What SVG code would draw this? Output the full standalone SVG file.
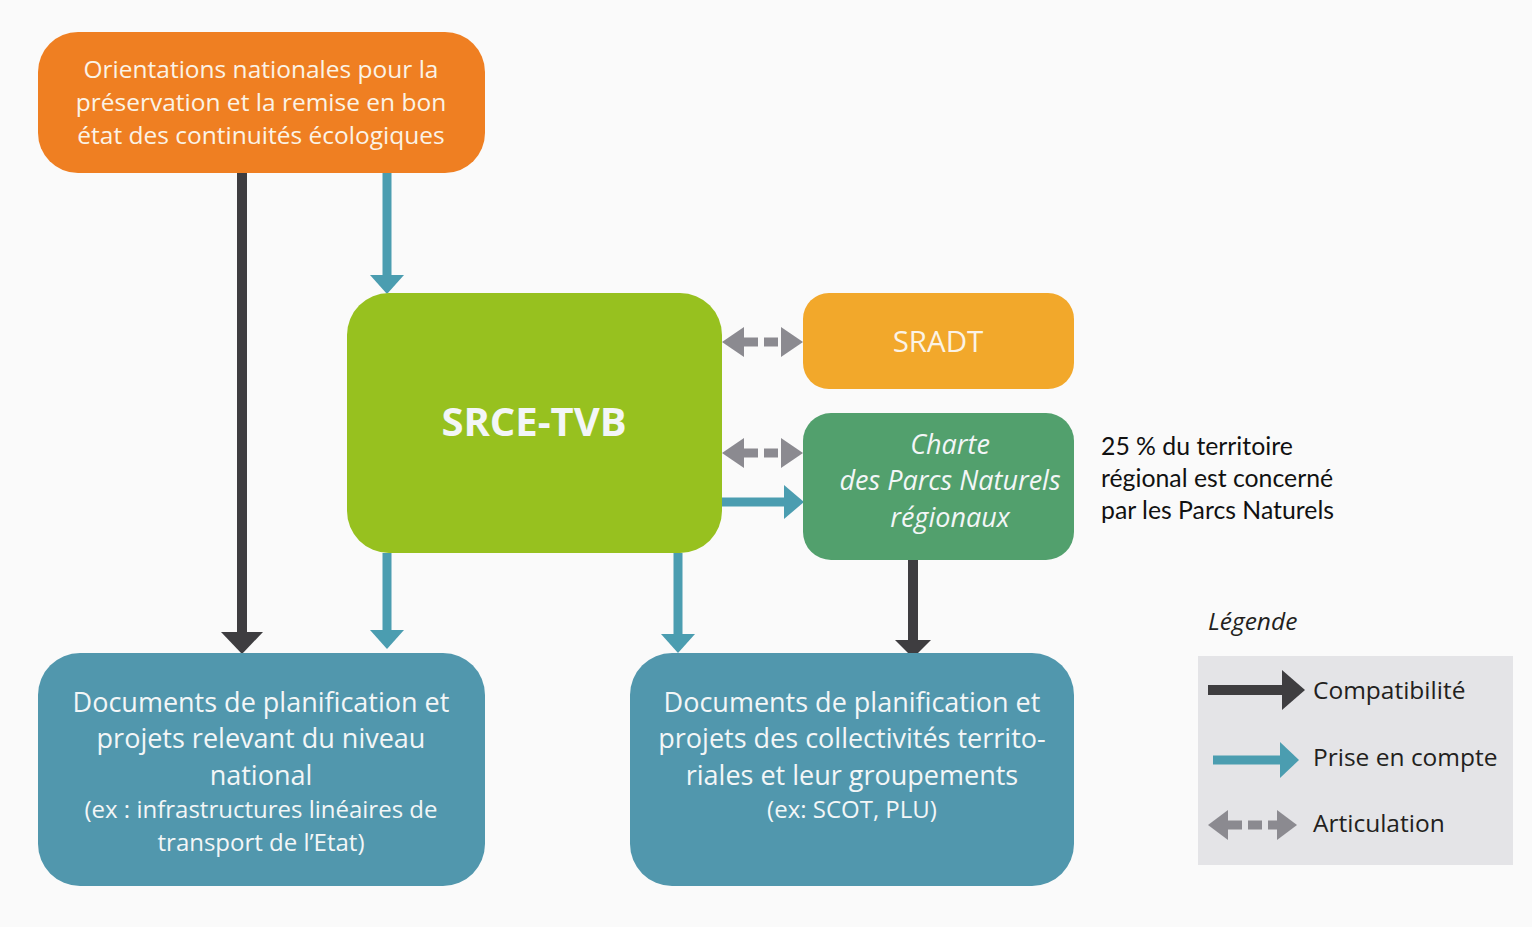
<svg xmlns="http://www.w3.org/2000/svg" width="1532" height="927" viewBox="0 0 1532 927">
<style>
.t{font-family:"Open Sans","Noto Sans",sans-serif;fill:#fbf3e6;text-anchor:middle}
.b{font-family:"Open Sans","Noto Sans",sans-serif;fill:#f3f6f7;text-anchor:middle}
.it{font-style:italic}
.dk{fill:#3e3d40}
.tl{fill:#4b9db0}
.gr{fill:#8b8a90}
.ldk{stroke:#3e3d40;stroke-width:10}
.ltl{stroke:#4b9db0;stroke-width:9}
.lgr{stroke:#8b8a90;stroke-width:9;stroke-dasharray:14 6}
.lg{font-family:"Open Sans","Noto Sans",sans-serif;fill:#231f20;font-size:24.5px}
.note{font-family:"Lato","Open Sans",sans-serif;fill:#111;font-size:24.8px}
</style>
<rect width="1532" height="927" fill="#fafafa"/>
<g id="connectors">
<line class="ldk" x1="242" y1="173" x2="242" y2="634"/>
<polygon class="dk" points="221,632 263,632 242,654"/>
<line class="ltl" x1="387" y1="173" x2="387" y2="277"/>
<polygon class="tl" points="370,275 404,275 387,294"/>
<line class="ltl" x1="387" y1="553" x2="387" y2="632"/>
<polygon class="tl" points="370,630 404,630 387,649"/>
<line class="ltl" x1="678" y1="553" x2="678" y2="636"/>
<polygon class="tl" points="661,634 695,634 678,653"/>
<line class="ldk" x1="913" y1="560" x2="913" y2="642"/>
<polygon class="dk" points="895,640 931,640 913,658"/>
<line class="ltl" x1="720" y1="502" x2="786" y2="502"/>
<polygon class="tl" points="784,485 784,519 804,502"/>
<line class="lgr" x1="744" y1="342" x2="786" y2="342"/>
<polygon class="gr" points="722,342 744,327 744,357"/>
<polygon class="gr" points="803,342 781,327 781,357"/>
<line class="lgr" x1="744" y1="453" x2="786" y2="453"/>
<polygon class="gr" points="722,453 744,438 744,468"/>
<polygon class="gr" points="803,453 781,438 781,468"/>
</g>
<g id="orientations">
<rect x="38" y="32" width="447" height="141" rx="40" fill="#ef7f22"/>
<text class="t" font-size="24.5" x="261" y="78">Orientations nationales pour la</text>
<text class="t" font-size="24.5" x="261" y="111">préservation et la remise en bon</text>
<text class="t" font-size="24.5" x="261" y="144">état des continuités écologiques</text>
</g>
<g id="srce">
<rect x="347" y="293" width="375" height="260" rx="42" fill="#97c11f"/>
<text class="b" font-size="40" font-weight="bold" x="534" y="436" fill="#fbfbf0">SRCE-TVB</text>
</g>
<g id="sradt">
<rect x="803" y="293" width="271" height="96" rx="26" fill="#f2a82b"/>
<text class="t" font-size="29.5" x="938" y="352">SRADT</text>
</g>
<g id="charte">
<rect x="803" y="413" width="271" height="147" rx="28" fill="#52a06d"/>
<text class="b it" font-size="27" x="950" y="454">Charte</text>
<text class="b it" font-size="27" x="950" y="490">des Parcs Naturels</text>
<text class="b it" font-size="27" x="950" y="527">régionaux</text>
</g>
<g id="national">
<rect x="38" y="653" width="447" height="233" rx="42" fill="#5197ad"/>
<text class="b" font-size="27" x="261" y="712">Documents de planification et</text>
<text class="b" font-size="27" x="261" y="748">projets relevant du niveau</text>
<text class="b" font-size="27" x="261" y="785">national</text>
<text class="b" font-size="24" x="261" y="818">(ex : infrastructures linéaires de</text>
<text class="b" font-size="24" x="261" y="851">transport de l’Etat)</text>
</g>
<g id="collectivites">
<rect x="630" y="653" width="444" height="233" rx="42" fill="#5197ad"/>
<text class="b" font-size="27" x="852" y="712">Documents de planification et</text>
<text class="b" font-size="27" x="852" y="748">projets des collectivités territo-</text>
<text class="b" font-size="27" x="852" y="785">riales et leur groupements</text>
<text class="b" font-size="24" x="852" y="818">(ex: SCOT, PLU)</text>
</g>
<g id="note">
<text class="note" x="1101" y="455">25 % du territoire</text>
<text class="note" x="1101" y="487">régional est concerné</text>
<text class="note" x="1101" y="519">par les Parcs Naturels</text>
</g>
<g id="legend">
<text class="lg it" x="1208" y="630" font-size="25.5">Légende</text>
<rect x="1198" y="656" width="315" height="209" fill="#e4e4e7"/>
<line class="ldk" x1="1208" y1="690" x2="1284" y2="690"/>
<polygon class="dk" points="1282,670 1282,710 1305,690"/>
<line class="ltl" x1="1213" y1="760" x2="1282" y2="760"/>
<polygon class="tl" points="1280,742 1280,778 1299,760"/>
<line class="lgr" x1="1228" y1="825" x2="1280" y2="825"/>
<polygon class="gr" points="1208,825 1228,810 1228,840"/>
<polygon class="gr" points="1297,825 1277,810 1277,840"/>
<text class="lg" x="1313" y="699">Compatibilité</text>
<text class="lg" x="1313" y="766">Prise en compte</text>
<text class="lg" x="1313" y="832">Articulation</text>
</g>
</svg>
